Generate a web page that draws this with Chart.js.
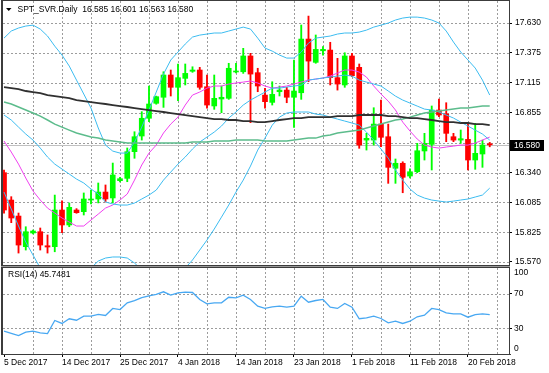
<!DOCTYPE html>
<html>
<head>
<meta charset="utf-8">
<script src="https://cdn.jsdelivr.net/npm/chart.js@4"></script>
<style>
html, body { margin: 0; padding: 0; background: #fff; }
#wrap { position: relative; width: 549px; height: 373px; }
canvas { position: absolute; left: 0; top: 0; }
</style>
</head>
<body>
<div id="wrap">
  <canvas id="main" width="549" height="373"></canvas>
  <canvas id="rsi" width="549" height="373"></canvas>
</div>
<script>
// ---- data ----
const symbol = 'SPT_SVR.Daily';
const rsiTitle = 'RSI(14) 45.7481';
const dateLabels = ['5 Dec 2017', '14 Dec 2017', '25 Dec 2017', '4 Jan 2018', '14 Jan 2018',
  '23 Jan 2018', '1 Feb 2018', '11 Feb 2018', '20 Feb 2018'];
const priceTicks = [15.570, 15.825, 16.085, 16.340, 16.595, 16.855, 17.115, 17.375, 17.630];
const rsiTicks = [0, 30, 70, 100];

const openV = [16.340, 16.104, 15.966, 15.702, 15.820, 15.831, 15.710, 15.702, 16.018, 15.889,
  16.018, 16.004, 16.104, 16.113, 16.173, 16.122, 16.271, 16.291, 16.521, 16.656,
  16.809, 16.938, 16.990, 17.182, 17.076, 17.153, 17.214, 17.225, 17.081, 16.915,
  16.975, 16.981, 17.208, 17.210, 17.346, 17.202, 17.009, 16.946, 17.038, 17.052,
  16.990, 17.029, 17.492, 17.291, 17.391, 17.397, 17.159, 17.096, 17.346, 17.248,
  16.621, 16.621, 16.759, 16.650, 16.378, 16.421, 16.311, 16.348, 16.527, 16.584,
  16.880, 16.846, 16.650, 16.621, 16.627, 16.449, 16.501, 16.585];
const highV = [16.363, 16.133, 15.992, 15.874, 15.845, 15.863, 15.803, 16.147, 16.098, 16.079,
  16.030, 16.165, 16.190, 16.251, 16.234, 16.423, 16.300, 16.553, 16.693, 16.866,
  17.087, 17.000, 17.210, 17.225, 17.277, 17.277, 17.253, 17.248, 17.182, 17.182,
  17.087, 17.283, 17.283, 17.412, 17.369, 17.240, 17.067, 17.124, 17.087, 17.076,
  17.311, 17.613, 17.690, 17.527, 17.426, 17.464, 17.326, 17.374, 17.369, 17.277,
  16.679, 16.900, 16.966, 16.759, 16.458, 16.434, 16.374, 16.593, 16.679, 16.915,
  16.975, 16.943, 16.679, 16.708, 16.765, 16.765, 16.621, 16.601];
const lowV = [15.990, 15.909, 15.647, 15.673, 15.812, 15.673, 15.647, 15.658, 15.822, 15.874,
  15.990, 15.975, 16.070, 16.079, 16.087, 16.079, 16.260, 16.262, 16.464, 16.621,
  16.779, 16.930, 16.903, 17.001, 16.960, 17.096, 17.205, 17.059, 16.895, 16.886,
  16.857, 16.972, 17.199, 17.196, 16.771, 17.038, 16.895, 16.923, 17.001, 16.943,
  16.731, 16.972, 17.124, 17.283, 17.354, 17.096, 17.052, 17.076, 17.167, 16.550,
  16.535, 16.578, 16.564, 16.248, 16.248, 16.167, 16.294, 16.340, 16.449, 16.363,
  16.822, 16.607, 16.607, 16.593, 16.363, 16.369, 16.386, 16.563];
const closeV = [16.018, 15.949, 15.716, 15.831, 15.837, 15.716, 15.699, 16.018, 15.889, 16.041,
  15.995, 16.113, 16.113, 16.173, 16.113, 16.320, 16.288, 16.521, 16.650, 16.809,
  16.932, 16.995, 17.182, 17.076, 17.159, 17.196, 17.225, 17.076, 16.923, 16.981,
  16.990, 17.240, 17.216, 17.346, 17.190, 17.087, 16.952, 17.015, 17.052, 16.990,
  17.044, 17.492, 17.302, 17.403, 17.403, 17.159, 17.104, 17.346, 17.176, 16.578,
  16.636, 16.759, 16.645, 16.386, 16.421, 16.300, 16.348, 16.529, 16.593, 16.880,
  16.837, 16.679, 16.621, 16.633, 16.449, 16.507, 16.578, 16.580];

const bbUpper = [17.500, 17.561, 17.587, 17.604, 17.612, 17.578, 17.518, 17.431, 17.354, 17.259,
  17.138, 17.018, 16.897, 16.725, 16.578, 16.526, 16.509, 16.509, 16.604, 16.733,
  16.880, 17.035, 17.190, 17.311, 17.380, 17.449, 17.509, 17.526, 17.535, 17.544,
  17.544, 17.561, 17.578, 17.595, 17.578, 17.500, 17.414, 17.388, 17.354, 17.328,
  17.328, 17.380, 17.457, 17.500, 17.509, 17.518, 17.535, 17.544, 17.544, 17.552,
  17.569, 17.595, 17.612, 17.630, 17.656, 17.673, 17.681, 17.681, 17.673, 17.656,
  17.630, 17.561, 17.466, 17.380, 17.311, 17.242, 17.138, 17.009];
const bbMiddle = [16.837, 16.794, 16.733, 16.673, 16.621, 16.552, 16.475, 16.414, 16.371, 16.328,
  16.285, 16.251, 16.199, 16.156, 16.087, 16.070, 16.061, 16.061, 16.078, 16.113,
  16.147, 16.190, 16.276, 16.345, 16.414, 16.475, 16.544, 16.604, 16.647, 16.690,
  16.742, 16.811, 16.863, 16.923, 16.966, 17.000, 17.035, 17.069, 17.069, 17.078,
  17.087, 17.095, 17.138, 17.147, 17.156, 17.164, 17.173, 17.181, 17.173, 17.138,
  17.121, 17.104, 17.087, 17.044, 17.000, 16.966, 16.940, 16.914, 16.888, 16.880,
  16.863, 16.837, 16.811, 16.776, 16.742, 16.707, 16.673, 16.621];
const bbLower = [16.173, 16.026, 15.880, 15.742, 15.630, 15.518, 15.414, 15.371, 15.371, 15.380,
  15.414, 15.457, 15.518, 15.578, 15.604, 15.613, 15.613, 15.604, 15.561, 15.501,
  15.432, 15.345, 15.285, 15.328, 15.440, 15.518, 15.587, 15.673, 15.759, 15.854,
  15.957, 16.061, 16.173, 16.276, 16.397, 16.535, 16.638, 16.750, 16.819, 16.854,
  16.863, 16.863, 16.863, 16.845, 16.837, 16.819, 16.802, 16.785, 16.768, 16.750,
  16.690, 16.621, 16.544, 16.466, 16.363, 16.276, 16.199, 16.147, 16.121, 16.104,
  16.095, 16.087, 16.095, 16.104, 16.113, 16.130, 16.147, 16.207];
const maFast = [16.613, 16.518, 16.414, 16.294, 16.182, 16.104, 16.035, 15.992, 15.949, 15.914,
  15.880, 15.880, 15.932, 15.983, 16.035, 16.061, 16.104, 16.156, 16.276, 16.406,
  16.509, 16.578, 16.682, 16.759, 16.819, 16.923, 17.009, 17.035, 17.069, 17.087,
  17.087, 17.104, 17.113, 17.121, 17.130, 17.113, 17.087, 17.069, 17.078, 17.087,
  17.104, 17.121, 17.138, 17.147, 17.156, 17.173, 17.199, 17.225, 17.225, 17.207,
  17.164, 17.087, 17.018, 16.957, 16.880, 16.776, 16.699, 16.630, 16.578, 16.561,
  16.552, 16.561, 16.569, 16.578, 16.578, 16.595, 16.621, 16.647];
const maMid = [16.949, 16.932, 16.906, 16.880, 16.854, 16.828, 16.794, 16.759, 16.733, 16.707,
  16.682, 16.664, 16.647, 16.638, 16.621, 16.613, 16.604, 16.595, 16.595, 16.595,
  16.595, 16.595, 16.595, 16.595, 16.595, 16.595, 16.604, 16.604, 16.604, 16.613,
  16.613, 16.613, 16.621, 16.621, 16.621, 16.621, 16.613, 16.613, 16.613, 16.613,
  16.621, 16.630, 16.638, 16.638, 16.656, 16.664, 16.682, 16.690, 16.699, 16.707,
  16.725, 16.742, 16.759, 16.776, 16.794, 16.802, 16.819, 16.837, 16.854, 16.863,
  16.871, 16.880, 16.888, 16.897, 16.897, 16.906, 16.914, 16.914];
const maSlow = [17.078, 17.069, 17.061, 17.044, 17.035, 17.026, 17.009, 17.000, 16.992, 16.983,
  16.966, 16.957, 16.949, 16.940, 16.932, 16.923, 16.914, 16.906, 16.897, 16.888,
  16.880, 16.871, 16.863, 16.854, 16.845, 16.837, 16.828, 16.819, 16.811, 16.802,
  16.802, 16.794, 16.794, 16.785, 16.785, 16.776, 16.776, 16.785, 16.794, 16.802,
  16.811, 16.811, 16.819, 16.819, 16.819, 16.819, 16.828, 16.828, 16.828, 16.837,
  16.837, 16.837, 16.837, 16.828, 16.828, 16.819, 16.811, 16.811, 16.802, 16.794,
  16.785, 16.776, 16.776, 16.768, 16.768, 16.759, 16.759, 16.750];
const rsiV = [26.5, 24, 21.5, 25.4, 26.5, 24.6, 23.8, 39, 35.5, 41,
  39.3, 44, 44, 46, 44.8, 53, 51.7, 59.5, 62, 65.5,
  67.5, 69.3, 72.3, 68.4, 71.2, 71.9, 71.5, 63.4, 58.4, 59.5,
  59.5, 66, 65.3, 68.4, 63.4, 55.6, 53, 54.9, 55.6, 54.4,
  55.6, 67.2, 60.2, 62.2, 63.4, 54.4, 53, 58.7, 54.4, 41,
  42.1, 44, 41.3, 36.3, 38.1, 35.5, 38.1, 43.3, 45.1, 53,
  51.7, 47.9, 46.7, 46.7, 42.8, 45.9, 46.7, 45.7481];

// ---- chart setup ----
Chart.defaults.font.family = 'Liberation Sans';
Chart.defaults.font.size = 8.5;
Chart.defaults.color = '#000';

const n = closeV.length;
const idx = closeV.map((_, i) => i);
const xy = arr => arr.map((v, i) => ({ x: i, y: v }));
const xMin = -0.14, xMax = 69.66;
const gridCol = '#9c9c9c';
const frameCol = '#3c3c3c';
const gridBars = [];
for (let b = 0; b <= 68; b += 4) gridBars.push(b);

const candleColor = ctx => closeV[ctx.dataIndex] >= openV[ctx.dataIndex] ? '#00ff00' : '#ff0000';

function lineDs(data, color, width) {
  return { type: 'line', data: xy(data), borderColor: color, borderWidth: width,
    pointRadius: 0, tension: 0, fill: false, order: 0, clip: 0 };
}

// dotted grid drawn under everything, like the terminal does
function drawGrid(chart, hValues) {
  const { ctx, chartArea } = chart;
  ctx.save();
  ctx.strokeStyle = gridCol;
  ctx.lineWidth = 1;
  ctx.setLineDash([2, 2]);
  ctx.beginPath();
  gridBars.forEach(b => {
    if (b === 0) return;
    const x = Math.round(chart.scales.x.getPixelForValue(b)) + 0.5;
    ctx.moveTo(x, chartArea.top);
    ctx.lineTo(x, chartArea.bottom);
  });
  hValues.forEach(v => {
    const y = Math.round(chart.scales.y.getPixelForValue(v)) + 0.5;
    if (y <= chartArea.top + 1 || y >= chartArea.bottom - 1) return;
    ctx.moveTo(chartArea.left, y);
    ctx.lineTo(chartArea.right, y);
  });
  ctx.stroke();
  ctx.restore();
}

const mainPlugin = {
  id: 'mainDecor',
  beforeDatasetsDraw(chart) {
    const { ctx, chartArea } = chart;
    drawGrid(chart, priceTicks);
    const y = Math.round(chart.scales.y.getPixelForValue(closeV[n - 1])) + 0.5;
    ctx.save();
    ctx.strokeStyle = '#c0c0c0';
    ctx.lineWidth = 1;
    ctx.beginPath();
    ctx.moveTo(chartArea.left, y);
    ctx.lineTo(chartArea.right, y);
    ctx.stroke();
    ctx.restore();
  },
  afterDraw(chart) {
    const { ctx, chartArea } = chart;
    ctx.save();
    // frame
    ctx.fillStyle = frameCol;
    ctx.fillRect(1, 0, chartArea.right, 1);
    ctx.fillRect(1, 0, 2, 355);
    ctx.fillRect(chartArea.right, 0, 1, 355);
    ctx.fillRect(1, chartArea.bottom, chartArea.right, 1);
    // title
    ctx.fillStyle = '#000';
    ctx.beginPath();
    ctx.moveTo(6, 8); ctx.lineTo(11.5, 8); ctx.lineTo(8.75, 11); ctx.closePath();
    ctx.fill();
    ctx.font = '8.5px "Liberation Sans"';
    ctx.textBaseline = 'middle';
    ctx.textAlign = 'left';
    const last = [openV[n - 1], highV[n - 1], lowV[n - 1], closeV[n - 1]].map(v => v.toFixed(3)).join(' ');
    ctx.fillText(symbol + '  ' + last, 17.5, 9.5);
    // price box
    const y = Math.round(chart.scales.y.getPixelForValue(closeV[n - 1]));
    ctx.fillStyle = '#000';
    ctx.fillRect(chartArea.right + 1, y - 5, 34, 11);
    ctx.fillStyle = '#fff';
    ctx.fillText(closeV[n - 1].toFixed(3), chartArea.right + 5, y + 0.5);
    ctx.restore();
  }
};

new Chart(document.getElementById('main'), {
  type: 'bar',
  data: {
    datasets: [
      lineDs(maSlow, '#303030', 1.8),
      lineDs(maMid, '#5cbc8c', 1.5),
      lineDs(bbUpper, '#3cbcf0', 1),
      lineDs(bbMiddle, '#3cbcf0', 1),
      lineDs(bbLower, '#3cbcf0', 1),
      lineDs(maFast, '#f040f0', 1),
      { type: 'bar', data: idx.map(i => ({ x: i, y: [lowV[i], highV[i]] })), backgroundColor: candleColor,
        barThickness: 1.2, grouped: false, minBarLength: 1, order: 3, clip: 0 },
      { type: 'bar', data: idx.map(i => ({ x: i, y: [openV[i], closeV[i]] })), backgroundColor: candleColor,
        barThickness: 5, grouped: false, minBarLength: 1, order: 2, clip: 0 }
    ]
  },
  options: {
    animation: false,
    responsive: false,
    devicePixelRatio: 1,
    layout: { padding: { left: 3, top: 1, right: 0, bottom: 108 } },
    plugins: { legend: { display: false }, tooltip: { enabled: false } },
    scales: {
      x: {
        type: 'linear', min: xMin, max: xMax, offset: false,
        afterBuildTicks: s => { s.ticks = gridBars.map(v => ({ value: v })); },
        ticks: { display: false, autoSkip: false },
        grid: { display: false },
        border: { display: false },
        afterFit: s => { s.height = 0; s.paddingLeft = 0; s.paddingRight = 0; }
      },
      y: {
        position: 'right', min: 15.544, max: 17.820,
        afterBuildTicks: s => { s.ticks = priceTicks.map(v => ({ value: v })); },
        ticks: {
          autoSkip: false, padding: 3,
          callback: v => Math.abs(v - closeV[n - 1]) < 0.03 ? '' : v.toFixed(3)
        },
        grid: { drawOnChartArea: false, tickLength: 3, tickColor: '#000' },
        border: { display: false },
        afterFit: s => { s.width = 40; s.paddingTop = 0; s.paddingBottom = 0; }
      }
    }
  },
  plugins: [mainPlugin]
});

const rsiPlugin = {
  id: 'rsiDecor',
  beforeDatasetsDraw(chart) {
    drawGrid(chart, [30, 70]);
  },
  afterDraw(chart) {
    const { ctx, chartArea } = chart;
    const ys = chart.scales.y;
    ctx.save();
    ctx.fillStyle = frameCol;
    ctx.fillRect(1, chartArea.top - 1, chartArea.right, 1);
    ctx.fillStyle = '#9a9a9a';
    ctx.fillRect(1, chartArea.top - 2, chartArea.right, 1);
    ctx.fillStyle = frameCol;
    ctx.fillRect(1, chartArea.bottom, chartArea.right + 1, 1);
    ctx.fillRect(1, chartArea.top - 1, 2, chartArea.bottom - chartArea.top + 2);
    ctx.fillRect(chartArea.right, chartArea.top - 1, 1, chartArea.bottom - chartArea.top + 2);
    ctx.fillStyle = '#000';
    ctx.font = '8.5px "Liberation Sans"';
    ctx.textBaseline = 'middle';
    ctx.textAlign = 'left';
    ctx.fillText(rsiTitle, 8, chartArea.top + 7);
    rsiTicks.forEach(v => {
      let y = ys.getPixelForValue(v);
      y = Math.min(Math.max(y, chartArea.top + 5), chartArea.bottom - 5);
      ctx.fillText(String(v), chartArea.right + 5, y);
    });
    ctx.restore();
  }
};

new Chart(document.getElementById('rsi'), {
  type: 'line',
  data: {
    datasets: [{ data: xy(rsiV), borderColor: '#48a8f2', borderWidth: 1.3, pointRadius: 0, tension: 0, fill: false, clip: 0 }]
  },
  options: {
    animation: false,
    responsive: false,
    devicePixelRatio: 1,
    layout: { padding: { left: 3, top: 268, right: 0, bottom: 0 } },
    plugins: { legend: { display: false }, tooltip: { enabled: false } },
    scales: {
      x: {
        type: 'linear', min: xMin, max: xMax, offset: false,
        afterBuildTicks: s => { s.ticks = gridBars.map(v => ({ value: v })); },
        ticks: {
          autoSkip: false, maxRotation: 0, align: 'start', padding: 1,
          callback: v => v % 8 === 0 ? (dateLabels[v / 8] || '') : ''
        },
        grid: {
          drawOnChartArea: false, tickLength: 3,
          tickColor: c => c.tick && c.tick.value % 8 === 0 && c.tick.value < 68 ? '#000' : 'rgba(0,0,0,0)'
        },
        border: { display: false },
        afterFit: s => { s.height = 19; s.paddingLeft = 0; s.paddingRight = 0; }
      },
      y: {
        position: 'right', min: 0, max: 100,
        afterBuildTicks: s => { s.ticks = [30, 70].map(v => ({ value: v })); },
        ticks: { display: false },
        grid: { drawOnChartArea: false, tickLength: 3, tickColor: '#000' },
        border: { display: false },
        afterFit: s => { s.width = 40; s.paddingTop = 0; s.paddingBottom = 0; }
      }
    }
  },
  plugins: [rsiPlugin]
});
</script>
</body>
</html>
